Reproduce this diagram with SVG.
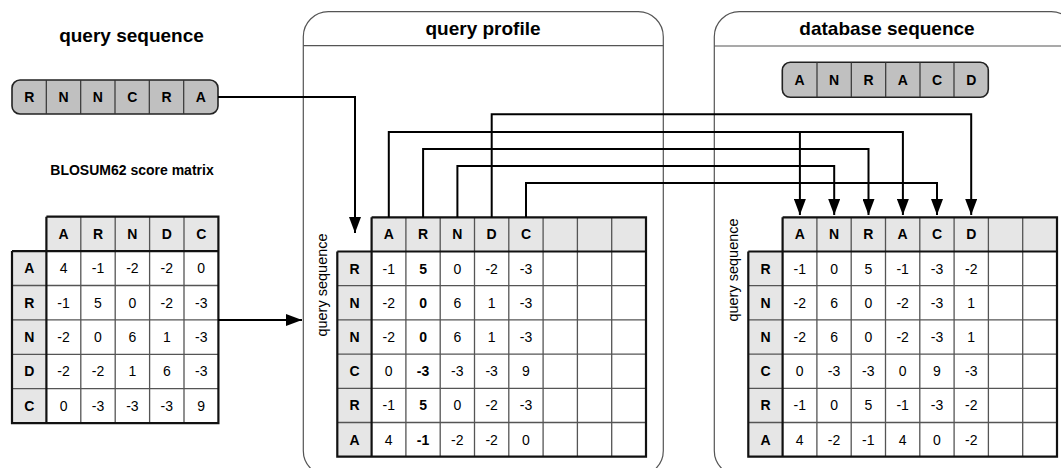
<svg xmlns="http://www.w3.org/2000/svg" width="1061" height="468" viewBox="0 0 1061 468">
<defs>
<marker id="ah" markerWidth="16" markerHeight="12" refX="16" refY="6" orient="auto" markerUnits="userSpaceOnUse">
<path d="M0,0 L16,6 L0,12 Z" fill="#000"/>
</marker>
</defs>
<style>
text{font-family:"Liberation Sans",Arial,sans-serif;fill:#000}
.title{font-size:19px;font-weight:bold;text-anchor:middle}
.sub{font-size:14px;font-weight:bold;text-anchor:middle}
.hd{font-size:14px;font-weight:bold;text-anchor:middle}
.v{font-size:14px;text-anchor:middle}
.vb{font-size:14px;font-weight:bold;text-anchor:middle}
.rot{font-size:14.5px;text-anchor:middle}
.cont{fill:#fff;stroke:#555;stroke-width:1.2}
.sep{stroke:#555;stroke-width:1.2}
.seq{fill:#c0c0c0;stroke:#222;stroke-width:1.6}
.sdiv{stroke:#333;stroke-width:1.2}
.light{fill:#e6e6e6}
.white{fill:#fff}
.grid{stroke:#555;stroke-width:1.3;fill:none}
.thick{stroke:#111;stroke-width:2.2;fill:none}
.conn{stroke:#000;stroke-width:2;fill:none}
</style>

<g id="query-profile-container">
<rect class="cont" x="303.3" y="11.7" width="360" height="464" rx="25"/>
<line class="sep" x1="303.3" y1="45.7" x2="663.3" y2="45.7"/>
<text class="title" x="483" y="35">query profile</text>
</g>

<g id="database-container">
<rect class="cont" x="714.3" y="11.7" width="362" height="464" rx="25"/>
<line class="sep" x1="714.3" y1="46" x2="1061" y2="46"/>
<text class="title" x="887" y="35">database sequence</text>
</g>

<g id="query-sequence">
<text class="title" x="131.5" y="42">query sequence</text>
<rect class="seq" x="12" y="80" width="206" height="34" rx="8"/>
<line class="sdiv" x1="46.3" y1="80" x2="46.3" y2="114"/>
<line class="sdiv" x1="80.7" y1="80" x2="80.7" y2="114"/>
<line class="sdiv" x1="115" y1="80" x2="115" y2="114"/>
<line class="sdiv" x1="149.3" y1="80" x2="149.3" y2="114"/>
<line class="sdiv" x1="183.7" y1="80" x2="183.7" y2="114"/>
<text class="hd" x="29.2" y="102">R</text>
<text class="hd" x="63.5" y="102">N</text>
<text class="hd" x="97.8" y="102">N</text>
<text class="hd" x="132.2" y="102">C</text>
<text class="hd" x="166.5" y="102">R</text>
<text class="hd" x="200.8" y="102">A</text>
</g>

<g id="database-sequence">
<rect class="seq" x="782.3" y="62.3" width="206" height="35" rx="8"/>
<line class="sdiv" x1="817" y1="62.3" x2="817" y2="97.3"/>
<line class="sdiv" x1="851.3" y1="62.3" x2="851.3" y2="97.3"/>
<line class="sdiv" x1="885.7" y1="62.3" x2="885.7" y2="97.3"/>
<line class="sdiv" x1="920" y1="62.3" x2="920" y2="97.3"/>
<line class="sdiv" x1="954" y1="62.3" x2="954" y2="97.3"/>
<text class="hd" x="799.6" y="85">A</text>
<text class="hd" x="834.1" y="85">N</text>
<text class="hd" x="868.5" y="85">R</text>
<text class="hd" x="902.8" y="85">A</text>
<text class="hd" x="937" y="85">C</text>
<text class="hd" x="971.2" y="85">D</text>
</g>

<g id="blosum62">
<text class="sub" x="132" y="175">BLOSUM62 score matrix</text>
<g transform="translate(12,216.7)">
<rect class="light" x="34.4" y="0" width="172" height="34.4"/>
<rect class="light" x="0" y="34.4" width="34.4" height="172"/>
<rect class="white" x="34.4" y="34.4" width="172" height="172"/>
<path class="grid" d="M68.8,0V206.4M103.2,0V206.4M137.6,0V206.4M172,0V206.4M0,68.8H206.4M0,103.2H206.4M0,137.6H206.4M0,172H206.4"/>
<path class="thick" d="M34.4,0V206.4M0,34.4H206.4M34.4,0H206.4V206.4H0V34.4"/>
<text class="hd" x="51.6" y="22.2">A</text>
<text class="hd" x="86" y="22.2">R</text>
<text class="hd" x="120.4" y="22.2">N</text>
<text class="hd" x="154.8" y="22.2">D</text>
<text class="hd" x="189.2" y="22.2">C</text>
<text class="hd" x="17.2" y="56.6">A</text>
<text class="hd" x="17.2" y="91">R</text>
<text class="hd" x="17.2" y="125.4">N</text>
<text class="hd" x="17.2" y="159.8">D</text>
<text class="hd" x="17.2" y="194.2">C</text>
<text class="v" x="51.6" y="56.6">4</text><text class="v" x="86" y="56.6">-1</text><text class="v" x="120.4" y="56.6">-2</text><text class="v" x="154.8" y="56.6">-2</text><text class="v" x="189.2" y="56.6">0</text>
<text class="v" x="51.6" y="91">-1</text><text class="v" x="86" y="91">5</text><text class="v" x="120.4" y="91">0</text><text class="v" x="154.8" y="91">-2</text><text class="v" x="189.2" y="91">-3</text>
<text class="v" x="51.6" y="125.4">-2</text><text class="v" x="86" y="125.4">0</text><text class="v" x="120.4" y="125.4">6</text><text class="v" x="154.8" y="125.4">1</text><text class="v" x="189.2" y="125.4">-3</text>
<text class="v" x="51.6" y="159.8">-2</text><text class="v" x="86" y="159.8">-2</text><text class="v" x="120.4" y="159.8">1</text><text class="v" x="154.8" y="159.8">6</text><text class="v" x="189.2" y="159.8">-3</text>
<text class="v" x="51.6" y="194.2">0</text><text class="v" x="86" y="194.2">-3</text><text class="v" x="120.4" y="194.2">-3</text><text class="v" x="154.8" y="194.2">-3</text><text class="v" x="189.2" y="194.2">9</text>
</g>
</g>

<g id="profile-matrix">
<text class="rot" transform="translate(327,285) rotate(-90)">query sequence</text>
<g transform="translate(337.3,217.3)">
<rect class="light" x="34.3" y="0" width="274.4" height="34.2"/>
<rect class="light" x="0" y="34.2" width="34.3" height="205.2"/>
<rect class="white" x="34.3" y="34.2" width="274.4" height="205.2"/>
<path class="grid" d="M68.6,0V239.4M102.9,0V239.4M137.2,0V239.4M171.5,0V239.4M205.8,0V239.4M240.1,0V239.4M274.4,0V239.4M0,68.4H308.7M0,102.6H308.7M0,136.8H308.7M0,171H308.7M0,205.2H308.7"/>
<path class="thick" d="M34.3,0V239.4M0,34.2H308.7M34.3,0H308.7V239.4H0V34.2"/>
<text class="hd" x="51.45" y="22.1">A</text>
<text class="hd" x="85.75" y="22.1">R</text>
<text class="hd" x="120.05" y="22.1">N</text>
<text class="hd" x="154.35" y="22.1">D</text>
<text class="hd" x="188.65" y="22.1">C</text>
<text class="hd" x="17.15" y="56.3">R</text>
<text class="hd" x="17.15" y="90.5">N</text>
<text class="hd" x="17.15" y="124.7">N</text>
<text class="hd" x="17.15" y="158.9">C</text>
<text class="hd" x="17.15" y="193.1">R</text>
<text class="hd" x="17.15" y="227.3">A</text>
<text class="v" x="51.45" y="56.3">-1</text><text class="vb" x="85.75" y="56.3">5</text><text class="v" x="120.05" y="56.3">0</text><text class="v" x="154.35" y="56.3">-2</text><text class="v" x="188.65" y="56.3">-3</text>
<text class="v" x="51.45" y="90.5">-2</text><text class="vb" x="85.75" y="90.5">0</text><text class="v" x="120.05" y="90.5">6</text><text class="v" x="154.35" y="90.5">1</text><text class="v" x="188.65" y="90.5">-3</text>
<text class="v" x="51.45" y="124.7">-2</text><text class="vb" x="85.75" y="124.7">0</text><text class="v" x="120.05" y="124.7">6</text><text class="v" x="154.35" y="124.7">1</text><text class="v" x="188.65" y="124.7">-3</text>
<text class="v" x="51.45" y="158.9">0</text><text class="vb" x="85.75" y="158.9">-3</text><text class="v" x="120.05" y="158.9">-3</text><text class="v" x="154.35" y="158.9">-3</text><text class="v" x="188.65" y="158.9">9</text>
<text class="v" x="51.45" y="193.1">-1</text><text class="vb" x="85.75" y="193.1">5</text><text class="v" x="120.05" y="193.1">0</text><text class="v" x="154.35" y="193.1">-2</text><text class="v" x="188.65" y="193.1">-3</text>
<text class="v" x="51.45" y="227.3">4</text><text class="vb" x="85.75" y="227.3">-1</text><text class="v" x="120.05" y="227.3">-2</text><text class="v" x="154.35" y="227.3">-2</text><text class="v" x="188.65" y="227.3">0</text>
</g>
</g>

<g id="database-matrix">
<text class="rot" transform="translate(738,270) rotate(-90)">query sequence</text>
<g transform="translate(748.3,217.3)">
<rect class="light" x="34.3" y="0" width="274.4" height="34.2"/>
<rect class="light" x="0" y="34.2" width="34.3" height="205.2"/>
<rect class="white" x="34.3" y="34.2" width="274.4" height="205.2"/>
<path class="grid" d="M68.6,0V239.4M102.9,0V239.4M137.2,0V239.4M171.5,0V239.4M205.8,0V239.4M240.1,0V239.4M274.4,0V239.4M0,68.4H308.7M0,102.6H308.7M0,136.8H308.7M0,171H308.7M0,205.2H308.7"/>
<path class="thick" d="M34.3,0V239.4M0,34.2H308.7M34.3,0H308.7V239.4H0V34.2"/>
<text class="hd" x="51.45" y="22.1">A</text>
<text class="hd" x="85.75" y="22.1">N</text>
<text class="hd" x="120.05" y="22.1">R</text>
<text class="hd" x="154.35" y="22.1">A</text>
<text class="hd" x="188.65" y="22.1">C</text>
<text class="hd" x="222.95" y="22.1">D</text>
<text class="hd" x="17.15" y="56.3">R</text>
<text class="hd" x="17.15" y="90.5">N</text>
<text class="hd" x="17.15" y="124.7">N</text>
<text class="hd" x="17.15" y="158.9">C</text>
<text class="hd" x="17.15" y="193.1">R</text>
<text class="hd" x="17.15" y="227.3">A</text>
<text class="v" x="51.45" y="56.3">-1</text><text class="v" x="85.75" y="56.3">0</text><text class="v" x="120.05" y="56.3">5</text><text class="v" x="154.35" y="56.3">-1</text><text class="v" x="188.65" y="56.3">-3</text><text class="v" x="222.95" y="56.3">-2</text>
<text class="v" x="51.45" y="90.5">-2</text><text class="v" x="85.75" y="90.5">6</text><text class="v" x="120.05" y="90.5">0</text><text class="v" x="154.35" y="90.5">-2</text><text class="v" x="188.65" y="90.5">-3</text><text class="v" x="222.95" y="90.5">1</text>
<text class="v" x="51.45" y="124.7">-2</text><text class="v" x="85.75" y="124.7">6</text><text class="v" x="120.05" y="124.7">0</text><text class="v" x="154.35" y="124.7">-2</text><text class="v" x="188.65" y="124.7">-3</text><text class="v" x="222.95" y="124.7">1</text>
<text class="v" x="51.45" y="158.9">0</text><text class="v" x="85.75" y="158.9">-3</text><text class="v" x="120.05" y="158.9">-3</text><text class="v" x="154.35" y="158.9">0</text><text class="v" x="188.65" y="158.9">9</text><text class="v" x="222.95" y="158.9">-3</text>
<text class="v" x="51.45" y="193.1">-1</text><text class="v" x="85.75" y="193.1">0</text><text class="v" x="120.05" y="193.1">5</text><text class="v" x="154.35" y="193.1">-1</text><text class="v" x="188.65" y="193.1">-3</text><text class="v" x="222.95" y="193.1">-2</text>
<text class="v" x="51.45" y="227.3">4</text><text class="v" x="85.75" y="227.3">-2</text><text class="v" x="120.05" y="227.3">-1</text><text class="v" x="154.35" y="227.3">4</text><text class="v" x="188.65" y="227.3">0</text><text class="v" x="222.95" y="227.3">-2</text>
</g>
</g>

<g id="connectors">
<path class="conn" d="M218,97 H355 V233" marker-end="url(#ah)"/>
<path class="conn" d="M218,320 H302" marker-end="url(#ah)"/>
<path class="conn" d="M388.8,217.3 V132 H902.9 V215" marker-end="url(#ah)"/>
<path class="conn" d="M799.9,132 V215" marker-end="url(#ah)"/>
<path class="conn" d="M423.1,217.3 V149 H868.5 V215" marker-end="url(#ah)"/>
<path class="conn" d="M457.4,217.3 V166 H834.2 V215" marker-end="url(#ah)"/>
<path class="conn" d="M491.7,217.3 V114.3 H971.2 V215" marker-end="url(#ah)"/>
<path class="conn" d="M526,217.3 V183 H937 V215" marker-end="url(#ah)"/>
</g>
</svg>
